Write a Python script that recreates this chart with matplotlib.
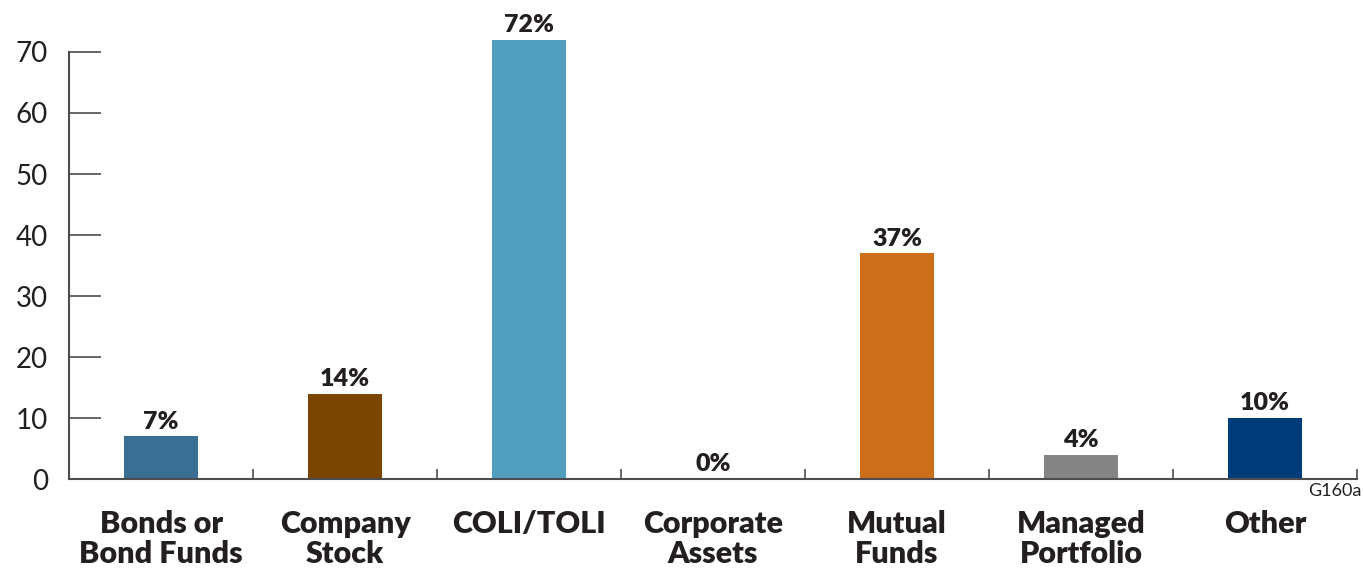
import matplotlib.pyplot as plt

categories = ['Bonds or\nBond Funds', 'Company\nStock', 'COLI/TOLI', 'Corporate\nAssets',
              'Mutual\nFunds', 'Managed\nPortfolio', 'Other']
values = [7, 14, 72, 0, 37, 4, 10]
colors = ['#386f92', '#7a4500', '#529ebf', '#ffffff', '#cd6e1a', '#848484', '#003b7a']
yticks = [0, 10, 20, 30, 40, 50, 60, 70]

fig = plt.figure(figsize=(13.64, 5.73), dpi=100)
ax = fig.add_axes([0.0506, 0.164, 0.9443, 0.7985])

x = list(range(len(categories)))
ax.bar(x, values, width=0.4, color=colors)

for xi, v in zip(x, values):
    ax.text(xi, v + 0.6, f'{v}%', ha='center', va='bottom', fontsize=18,
            fontweight='heavy', family='Lato', color='#231f20')

ax.set_xlim(-0.5, 6.5)
ax.set_ylim(0, 75)
ax.spines['top'].set_visible(False)
ax.spines['right'].set_visible(False)
ax.spines['left'].set_bounds(0, 70)
for s in ['left', 'bottom']:
    ax.spines[s].set_color('#4d4d4f')
    ax.spines[s].set_linewidth(1.5)

ax.set_yticks(yticks)
ax.set_yticklabels([str(t) for t in yticks], family='Lato', fontweight='normal',
                   fontsize=20, color='#231f20')
ax.tick_params(axis='y', direction='in', length=23, width=1.2, color='#4d4d4f', pad=15)

ax.set_xticks(x)
ax.set_xticklabels(categories, family='Lato', fontsize=22, fontweight='heavy',
                   color='#231f20', linespacing=1.1)
ax.tick_params(axis='x', which='major', length=0, pad=22)
ax.set_xticks([i + 0.5 for i in x], minor=True)
ax.tick_params(axis='x', which='minor', direction='in', length=7, width=1.2, color='#4d4d4f')

fig.text(0.998, 0.143, 'G160a', ha='right', va='center', fontsize=13, family='Lato',
         fontweight='normal', color='#231f20')

fig.savefig('out.png', dpi=100)
